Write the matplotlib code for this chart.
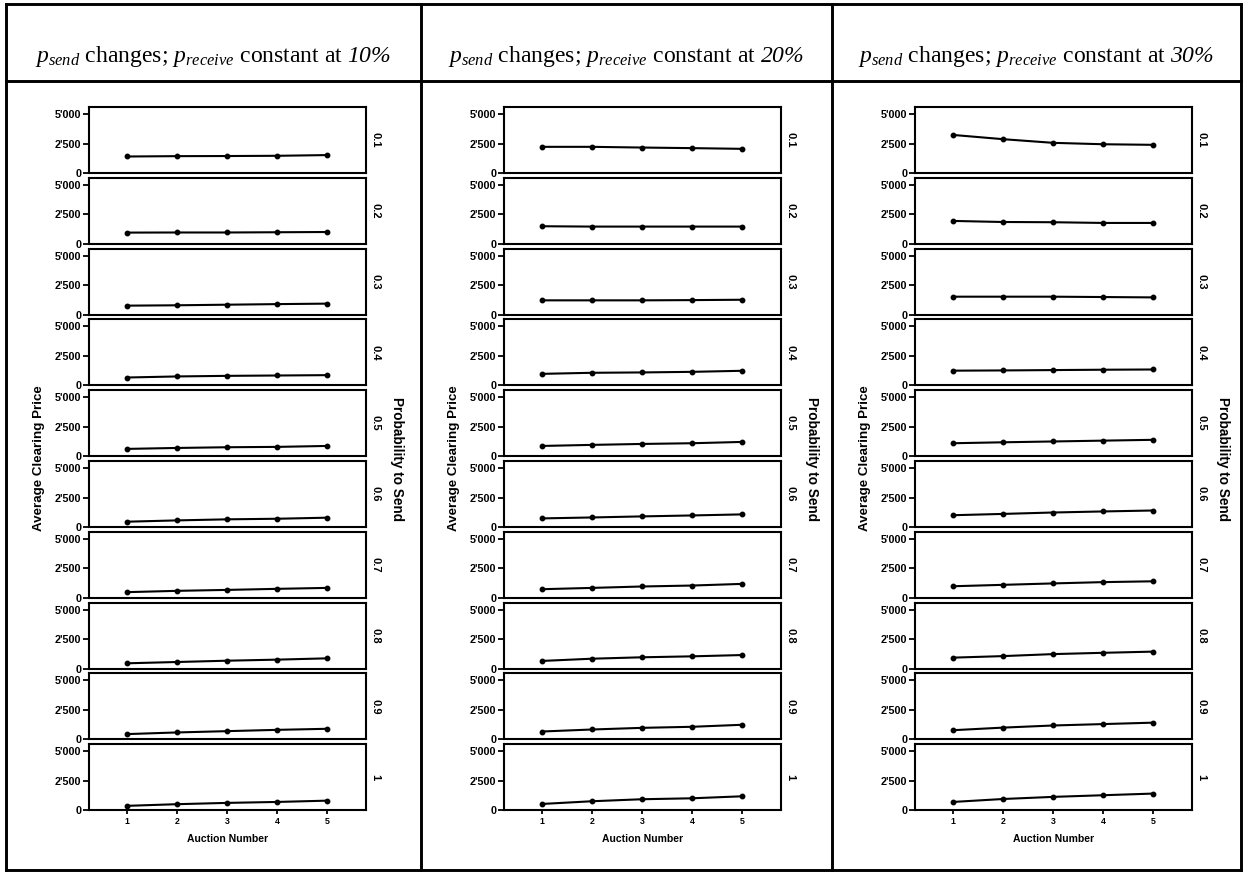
import matplotlib
matplotlib.use("Agg")
import matplotlib.pyplot as plt
from matplotlib.lines import Line2D

auctions = [1, 2, 3, 4, 5]
p_send = ["0.1", "0.2", "0.3", "0.4", "0.5", "0.6", "0.7", "0.8", "0.9", "1"]
p_receive = ["10", "20", "30"]

# average clearing price per auction, one row per p_send level
price_recv10 = [
    [1400, 1430, 1440, 1460, 1520],
    [950, 960, 960, 980, 1000],
    [760, 790, 840, 890, 930],
    [670, 760, 810, 840, 870],
    [620, 700, 760, 790, 870],
    [450, 560, 650, 700, 790],
    [480, 590, 670, 760, 840],
    [450, 560, 670, 760, 870],
    [450, 590, 700, 810, 900],
    [370, 510, 620, 700, 810],
]
price_recv20 = [
    [2220, 2220, 2160, 2110, 2050],
    [1490, 1460, 1460, 1460, 1460],
    [1210, 1210, 1210, 1230, 1260],
    [980, 1070, 1100, 1150, 1240],
    [870, 960, 1040, 1100, 1210],
    [730, 810, 900, 980, 1070],
    [730, 840, 960, 1040, 1180],
    [650, 840, 960, 1040, 1150],
    [670, 840, 980, 1070, 1240],
    [530, 760, 930, 1010, 1180],
]
price_recv30 = [
    [3230, 2870, 2560, 2440, 2390],
    [1940, 1850, 1830, 1770, 1770],
    [1520, 1520, 1520, 1490, 1460],
    [1250, 1270, 1300, 1330, 1350],
    [1100, 1180, 1250, 1320, 1390],
    [1000, 1110, 1230, 1320, 1400],
    [980, 1100, 1220, 1330, 1400],
    [930, 1060, 1230, 1340, 1440],
    [780, 1000, 1180, 1300, 1420],
    [700, 950, 1130, 1270, 1410],
]
prices = [price_recv10, price_recv20, price_recv30]

W, H = 1243, 872
plt.rcParams['mathtext.fontset'] = 'custom'
plt.rcParams['mathtext.rm'] = 'Liberation Serif'
plt.rcParams['mathtext.it'] = 'Liberation Serif:italic'
plt.rcParams['mathtext.cal'] = 'Liberation Serif:italic'
plt.rcParams['font.family'] = 'Liberation Sans'

fig = plt.figure(figsize=(W / 100, H / 100), dpi=100)


def fx(x):
    return x / W


def fy(y):
    return 1 - y / H


def hline(x0, x1, y):
    fig.add_artist(Line2D([fx(x0), fx(x1)], [fy(y), fy(y)], color='black', lw=2.1))


def vline(x, y0, y1):
    fig.add_artist(Line2D([fx(x), fx(x)], [fy(y0), fy(y1)], color='black', lw=2.1))


# table frame
col_x = [6, 421, 832, 1241]
hline(col_x[0], col_x[-1], 4)
hline(col_x[0], col_x[-1], 81)
hline(col_x[0], col_x[-1], 870)
for x in col_x:
    vline(x, 4, 870)

panel_top, panel_h, pitch = 107, 66, 70.8
ax_off, ax_w = 83, 277

for c in range(3):
    cx = col_x[c]
    # header cell; \mathcal is mapped to the italic serif so the number stays italic
    fig.text(fx((col_x[c] + col_x[c + 1]) / 2), fy(62),
             r"$p_{send}$ changes; $p_{receive}$ constant at $\mathcal{" + p_receive[c] + r"\%}$",
             ha='center', va='baseline', fontsize=17, family='Liberation Serif')
    for k in range(10):
        top = panel_top + k * pitch
        ax = fig.add_axes([fx(cx + ax_off), fy(top + panel_h), fx(ax_w), panel_h / H])
        ax.plot(auctions, prices[c][k], '-', color='black', lw=1.5,
                marker='o', markersize=3.2)
        ax.set_xlim(0.24, 5.78)
        ax.set_ylim(0, 5600)
        ax.set_yticks([0, 2500, 5000])
        ax.set_yticklabels(["0", "2'500", "5'000"], fontsize=7.8, fontweight='bold')
        for s in ax.spines.values():
            s.set_linewidth(1.5)
        ax.tick_params(axis='y', length=4.5, width=1.3, pad=1)
        if k < 9:
            ax.set_xticks([])
        else:
            ax.set_xticks(auctions)
            ax.set_xticklabels([str(a) for a in auctions], fontsize=6.3, fontweight='bold')
            ax.tick_params(axis='x', length=3, width=1.3, pad=2)
            ax.set_xlabel("Auction Number", fontsize=7.5, fontweight='bold', labelpad=6)
        ax.text(1.035, 0.5, p_send[k], transform=ax.transAxes, rotation=-90,
                ha='center', va='center', fontsize=8, fontweight='bold')

    mid = panel_top + (9 * pitch + panel_h) / 2
    fig.text(fx(cx + 33), fy(mid), "Average Clearing Price", rotation=90,
             ha='center', va='center', fontsize=9.6, fontweight='bold')
    fig.text(fx(cx + ax_off + ax_w + 31), fy(mid), "Probability to Send", rotation=-90,
             ha='center', va='center', fontsize=9.8, fontweight='bold')

fig.savefig("out.png", dpi=100)
